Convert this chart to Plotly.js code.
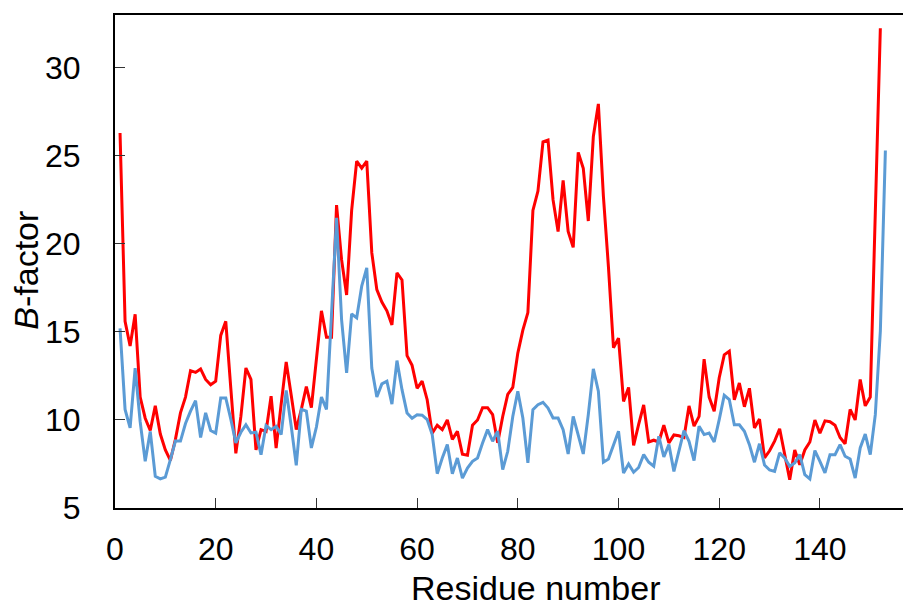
<!DOCTYPE html>
<html>
<head>
<meta charset="utf-8">
<script src="https://cdn.plot.ly/plotly-3.0.1.min.js"></script>
<style>
html,body{margin:0;padding:0;background:#fff;overflow:hidden;}
#chart{width:904px;height:608px;}
</style>
</head>
<body>
<div id="chart"></div>
<script>
// Red series: B-factor per residue (1..152)
const redValues = [
26.3,15.6,14.2,16.0,11.3,10.1,9.4,10.8,9.2,8.3,
7.7,8.9,10.4,11.3,12.8,12.7,12.9,12.3,12.0,12.2,
14.8,15.6,11.8,8.1,10.2,12.95,12.3,8.3,9.45,9.35,
11.35,8.4,10.9,13.3,11.4,9.45,10.6,11.9,10.7,13.4,
16.2,14.7,14.7,22.2,19.1,17.1,21.9,24.7,24.3,24.7,
19.5,17.4,16.7,16.2,15.4,18.35,17.95,13.65,13.1,11.8,
12.2,11.15,9.25,9.7,9.45,10.0,8.9,9.35,8.05,8.0,
9.7,10.0,10.7,10.7,10.3,8.7,10.2,11.45,11.85,13.8,
15.1,16.1,21.9,23.0,25.8,25.9,22.5,20.7,23.6,20.7,
19.8,25.2,24.3,21.3,26.1,27.95,22.7,18.7,14.1,14.65,
11.05,11.85,8.55,9.75,10.85,8.75,8.85,8.75,9.7,8.7,
9.15,9.1,9.0,10.8,9.65,10.2,13.45,11.3,10.5,12.4,
13.7,13.9,11.15,12.1,10.75,11.8,9.55,10.05,7.85,8.25,
8.8,9.5,7.95,6.6,8.3,7.45,8.3,8.75,10.0,9.25,
9.95,9.9,9.7,9.0,8.65,10.6,10.0,12.3,10.8,11.3,
21.8,32.25
];
// Blue series: B-factor per residue (1..153)
const blueValues = [
15.2,10.6,9.55,12.95,9.9,7.65,9.35,6.8,6.65,6.75,
7.75,8.8,8.8,9.8,10.5,11.1,9.0,10.4,9.4,9.25,
11.25,11.25,10.05,8.7,9.3,9.73,9.26,9.3,8.03,9.68,
9.45,9.64,9.17,11.68,9.64,7.42,10.6,10.5,8.41,9.6,
11.3,10.6,16.0,21.48,15.7,12.67,16.02,15.8,17.6,18.64,
12.95,11.3,12.05,12.2,10.9,13.37,11.72,10.4,10.1,10.3,
10.27,10.02,9.17,6.95,7.84,8.6,6.95,7.84,6.7,7.27,
7.65,7.84,8.69,9.45,8.79,9.36,7.18,8.22,10.2,11.63,
10.11,7.56,10.59,10.87,11.0,10.68,10.11,10.11,9.45,8.07,
10.2,9.07,8.07,10.3,12.9,11.63,7.6,7.78,8.6,9.36,
6.99,7.5,7.03,7.3,8.03,7.6,7.37,9.07,7.9,8.6,
7.08,8.31,9.4,8.79,7.69,9.64,9.17,9.26,8.75,10.02,
11.4,11.16,9.73,9.73,9.36,8.6,7.6,8.65,7.44,7.16,
7.08,8.13,7.84,7.37,7.56,8.03,6.89,6.65,8.26,7.65,
6.99,8.03,8.03,8.6,7.94,7.78,6.7,8.41,9.2,8.03,
10.3,15.04,25.3
];
const xTickVals = [0,20,40,60,80,100,120,140];
const yTickVals = [5,10,15,20,25,30];
const xTitle = 'Residue number';
const yTitle = '<i>B</i>-factor';

const redX = redValues.map((_, i) => i + 1);
const blueX = blueValues.map((_, i) => i + 1);

const FONT = 'Arial, "Liberation Sans", sans-serif';

const traces = [
  {x: redX, y: redValues, type: 'scatter', mode: 'lines',
   line: {color: '#FF0000', width: 3}, hoverinfo: 'skip', showlegend: false},
  {x: blueX, y: blueValues, type: 'scatter', mode: 'lines',
   line: {color: '#5B9BD5', width: 3}, hoverinfo: 'skip', showlegend: false}
];

const layout = {
  width: 904, height: 608,
  margin: {l: 115, r: 1, t: 15, b: 100},
  paper_bgcolor: '#ffffff', plot_bgcolor: '#ffffff',
  font: {family: FONT, color: '#000', size: 32},
  showlegend: false,
  xaxis: {
    range: [0, 156.5], tickvals: xTickVals, ticktext: xTickVals.map(String),
    ticks: 'inside', ticklen: 10, tickwidth: 1, tickcolor: '#333',
    showline: true, linecolor: '#000', linewidth: 2, mirror: true,
    showgrid: false, zeroline: false,
    tickfont: {family: FONT, size: 32, color: '#000'},
    ticklabelstandoff: 12
  },
  yaxis: {
    range: [5, 33], tickvals: yTickVals, ticktext: yTickVals.map(String),
    ticks: 'inside', ticklen: 10, tickwidth: 1, tickcolor: '#333',
    showline: true, linecolor: '#000', linewidth: 2, mirror: false,
    showgrid: false, zeroline: false,
    tickfont: {family: FONT, size: 32, color: '#000'},
    ticklabelstandoff: 26
  },
  annotations: [
    {text: xTitle, xref: 'paper', yref: 'paper',
     x: (535 - 115) / 788, y: (508.3 - 588) / 493,
     xanchor: 'center', yanchor: 'middle', showarrow: false,
     font: {family: FONT, size: 34, color: '#000'}},
    {text: yTitle, xref: 'paper', yref: 'paper',
     x: (26 - 115) / 788, y: (508.3 - 271) / 493,
     xanchor: 'center', yanchor: 'middle', showarrow: false, textangle: -90,
     font: {family: FONT, size: 34, color: '#000'}}
  ]
};

Plotly.newPlot('chart', traces, layout, {staticPlot: true, displayModeBar: false});
</script>
</body>
</html>
